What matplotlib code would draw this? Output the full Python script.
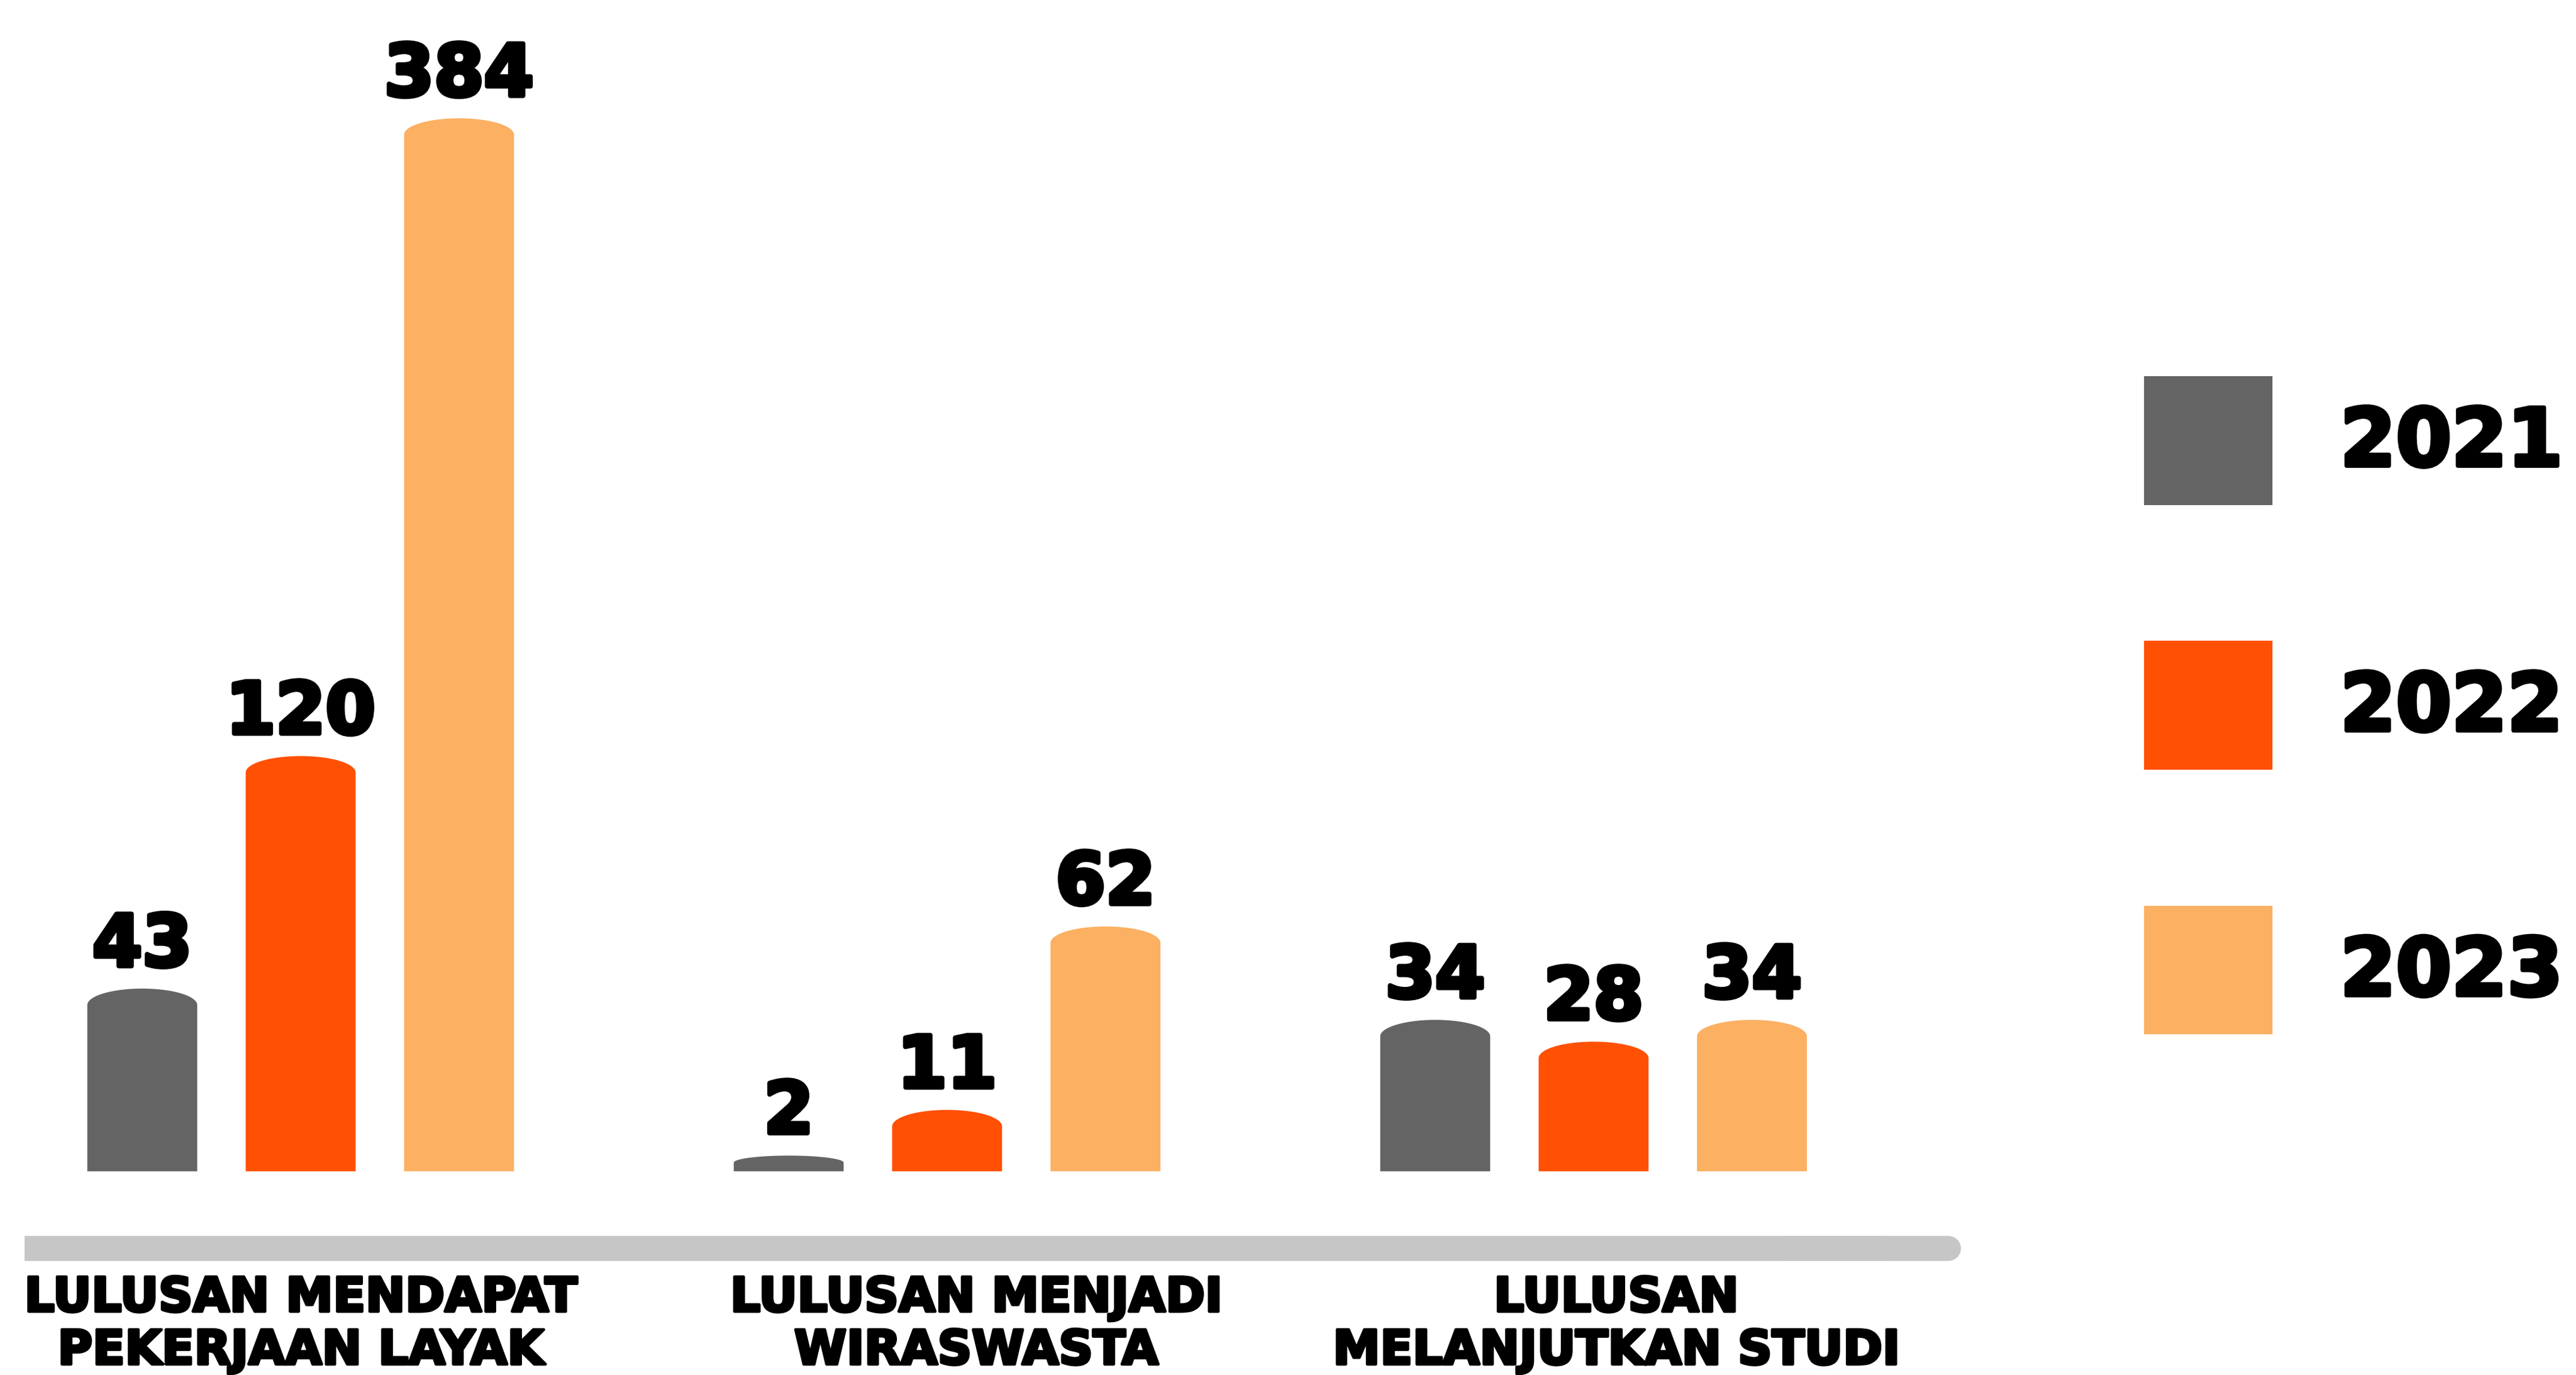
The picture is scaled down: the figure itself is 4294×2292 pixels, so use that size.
import matplotlib
matplotlib.use("Agg")
import matplotlib.pyplot as plt
import numpy as np
from matplotlib.path import Path
from matplotlib.patches import PathPatch, Patch
from matplotlib.transforms import IdentityTransform, blended_transform_factory
import matplotlib.patheffects as pe

# ---------------- data ----------------
categories = ["LULUSAN MENDAPAT\nPEKERJAAN LAYAK",
              "LULUSAN MENJADI\nWIRASWASTA",
              "LULUSAN\nMELANJUTKAN STUDI"]
years = ["2021", "2022", "2023"]
values_2021 = [43, 2, 34]
values_2022 = [120, 11, 28]
values_2023 = [384, 62, 34]

colors = ["#646464", "#FF5004", "#FBB062"]
line_color = "#C6C6C6"

FAM, WGT = "DejaVu Sans", "bold"


def heavy(lw):
    return [pe.withStroke(linewidth=lw, foreground="black")]


# ---------------- figure ----------------
W, H, DPI = 4294, 2292, 100
fig = plt.figure(figsize=(W / DPI, H / DPI), dpi=DPI)
fig.patch.set_facecolor("white")

# axes: baseline at 713/837, right edge of plot region ~1200/1568
ax = fig.add_axes([0.0, 1 - 713 / 837, 1200 / 1568, (713 - 30) / 837])
ax.set_axis_off()

p = 0.8
ax.set_yscale("function", functions=(lambda y: np.sign(y) * np.abs(y) ** p,
                                     lambda y: np.sign(y) * np.abs(y) ** (1 / p)))
vmax = max(values_2023)
ax.set_ylim(0, vmax * (1 / 0.9385) ** (1 / p))
unit = 393.5
ax.set_xlim(-183 / unit, (1200 - 183) / unit)

x = np.arange(len(categories))
offsets = [-0.245, 0.0, 0.245]
width = 0.17
series = [values_2021, values_2022, values_2023]

containers = []
for vals, off, c in zip(series, offsets, colors):
    bc = ax.bar(x + off, vals, width, color=c, edgecolor="none")
    containers.append(bc)

# value labels
for vals, off in zip(series, offsets):
    for xi, v in zip(x, vals):
        ax.annotate(str(v), (xi + off, v), xytext=(0, 9), textcoords="offset points",
                    ha="center", va="bottom", fontsize=86, family=FAM,
                    fontweight=WGT, color="black", annotation_clip=False,
                    path_effects=heavy(5.5))

# grey baseline bar under chart
tr = blended_transform_factory(ax.transData, fig.transFigure)
yline = 1 - 760 / 837
ax.plot([-168 / unit, 2.45], [yline, yline], transform=tr, color=line_color,
        lw=30, solid_capstyle="butt", clip_on=False)
ax.plot([2.3, (1186 - 183) / unit], [yline, yline], transform=tr, color=line_color,
        lw=30, solid_capstyle="round", clip_on=False)

# category labels
label_dx = [0.0, 0.045, 0.035]
for xi, dx, cat in zip(x, label_dx, categories):
    ax.text(xi + dx, 1 - 2126 / 2292, cat, transform=tr, ha="center", va="top",
            fontsize=57, family=FAM, fontweight=WGT, color="black",
            linespacing=1.2, clip_on=False, path_effects=heavy(3.5))

# legend
handles = [Patch(facecolor=c, edgecolor="none") for c in colors]
leg = fig.legend(handles, years, loc="upper right",
                 bbox_to_anchor=(1560 / 1568, 1 - 229 / 837),
                 frameon=False, prop={"family": FAM, "weight": WGT, "size": 96},
                 handlelength=1.6, handleheight=2.1, handletextpad=0.85,
                 labelspacing=1.7, borderpad=0, borderaxespad=0)
for t in leg.get_texts():
    t.set_path_effects(heavy(5))

# rounded (cylinder-like) tops for bars, built from each bar's drawn extent
fig.canvas.draw()
for bc, c in zip(containers, colors):
    for rect in bc.patches:
        bb = rect.get_window_extent()
        x0, x1, y0, y1 = bb.x0, bb.x1, bb.y0, bb.y1
        w = x1 - x0
        ry = min(0.15 * w, 0.45 * (y1 - y0))
        xc = 0.5 * (x0 + x1)
        t = np.linspace(np.pi, 0, 60)
        cap = np.column_stack([xc + 0.5 * w * np.cos(t), y1 - ry + ry * np.sin(t)])
        verts = np.vstack([[x0, y0], cap, [x1, y0], [x0, y0]])
        codes = [Path.MOVETO] + [Path.LINETO] * (len(verts) - 2) + [Path.CLOSEPOLY]
        rect.set_visible(False)
        fig.add_artist(PathPatch(Path(verts, codes), transform=IdentityTransform(),
                                 facecolor=c, edgecolor="none"))

fig.savefig("out.png", dpi=DPI, facecolor="white")
